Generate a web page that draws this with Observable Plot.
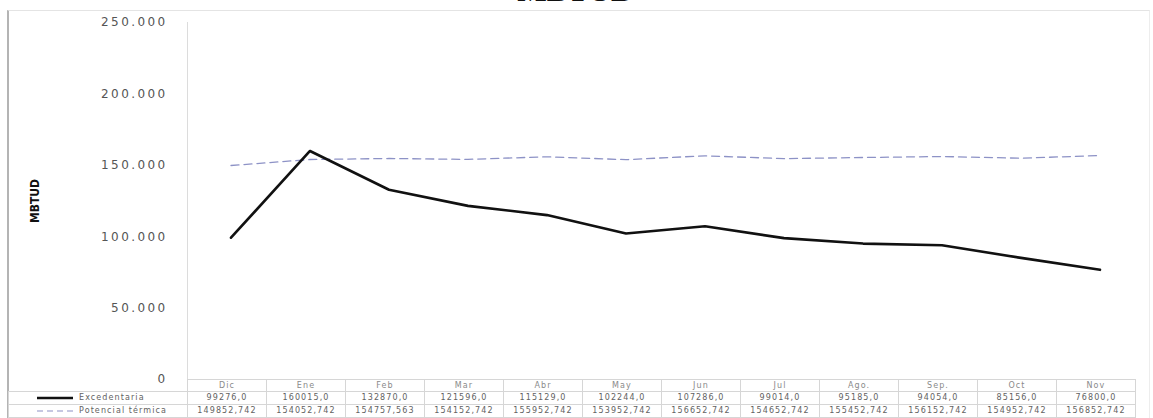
<!DOCTYPE html>
<html>
<head>
<meta charset="utf-8">
<script src="https://cdn.jsdelivr.net/npm/d3@7"></script>
<script src="https://cdn.jsdelivr.net/npm/@observablehq/plot@0.6"></script>
<style>
  html, body { margin: 0; padding: 0; background: #fff; }
  #wrap { position: relative; width: 1153px; height: 418px; overflow: hidden; background: #fff; }
  #title { position: absolute; left: 0; width: 1153px; top: -20px; text-align: center;
    font-family: "Liberation Serif", serif; font-weight: bold; font-size: 26px; line-height: 1;
    color: #111; transform: scaleX(1.2); transform-origin: 582px 0; }
  #border { position: absolute; left: 7px; top: 10px; width: 1140px; height: 412px;
    border-left: 2px solid #b4b4b4; border-top: 1px solid #e4e4e4; border-right: 1px solid #ededed; }
  #chart { position: absolute; left: 0; top: 0; }
  #tbl { position: absolute; top: 379px; border-collapse: collapse; table-layout: fixed;
    font-family: "DejaVu Sans", sans-serif; font-size: 8px; letter-spacing: 1.1px; color: #626262; }
  #tbl td { border: 1px solid #d6d6d6; padding: 0; text-align: center; white-space: nowrap; overflow: hidden; }
  #tbl tr.h td { height: 11px; line-height: 11px; color: #8a8a8a; }
  #tbl tr.r td { height: 12px; line-height: 12px; }
  #tbl tr.h td.blank { border: none; }
  #tbl td.lab { text-align: left; }
  #tbl td.lab svg { vertical-align: middle; margin-left: 28px; margin-right: 6px; }
</style>
</head>
<body>
<div id="wrap">
  <div id="border"></div>
  <div id="title">MBTUD</div>
  <div id="chart"></div>
  <table id="tbl"></table>
</div>
<script>
// ---- data ----
const months = ["Dic", "Ene", "Feb", "Mar", "Abr", "May", "Jun", "Jul", "Ago.", "Sep.", "Oct", "Nov"];
const excedentaria = [99276.0, 160015.0, 132870.0, 121596.0, 115129.0, 102244.0, 107286.0, 99014.0, 95185.0, 94054.0, 85156.0, 76800.0];
const potencial = [149852.742, 154052.742, 154757.563, 154152.742, 155952.742, 153952.742, 156652.742, 154652.742, 155452.742, 156152.742, 154952.742, 156852.742];
const seriesNames = ["Excedentaria", "Potencial térmica"];
const yTicks = [0, 50000, 100000, 150000, 200000, 250000];
const yLabel = "MBTUD";

const excRows = months.map((m, i) => ({month: m, value: excedentaria[i]}));
const potRows = months.map((m, i) => ({month: m, value: potencial[i]}));

const thousands = d => d3.format(",")(d).replace(/,/g, ".");

const chart = Plot.plot({
  width: 1153,
  height: 418,
  marginTop: 22,
  marginBottom: 39,
  marginLeft: 187,
  marginRight: 10,
  style: {fontFamily: "DejaVu Sans, sans-serif", fontSize: "12px", color: "#555", background: "transparent", letterSpacing: "2.4px"},
  x: {type: "band", domain: months, padding: 0, axis: null},
  y: {domain: [0, 250000], ticks: yTicks, tickFormat: thousands, tickSize: 0, tickPadding: 20, label: null},
  marks: [
    Plot.frame({anchor: "left", stroke: "#dcdcdc"}),
    Plot.line(potRows, {x: "month", y: "value", stroke: "#8d92c6", strokeWidth: 1.3, strokeDasharray: "8,5"}),
    Plot.line(excRows, {x: "month", y: "value", stroke: "#111", strokeWidth: 2.6}),
    Plot.text([yLabel], {frameAnchor: "left", textAnchor: "middle", dx: -152, rotate: -90, text: d => d, fontWeight: "bold",
      fontFamily: "DejaVu Sans Condensed, DejaVu Sans", fontSize: 12, fill: "#111"})
  ]
});
document.getElementById("chart").appendChild(chart);
// the rotated label is not letter-spaced as widely as the tick labels
chart.querySelectorAll("text").forEach(t => { if (t.textContent === yLabel) t.style.letterSpacing = "0px"; });

// ---- data table aligned to the x band scale ----
const xs = chart.scale("x");
const bw = xs.bandwidth;
const x0 = xs.range[0];
const tblLeft = 8;
const tbl = document.getElementById("tbl");
tbl.style.left = tblLeft + "px";
let html = "<colgroup><col style='width:" + (x0 - tblLeft) + "px'>" +
  months.map(() => "<col style='width:" + bw + "px'>").join("") + "</colgroup>";
html += "<tr class='h'><td class='blank'></td>" + months.map(m => "<td>" + m + "</td>").join("") + "</tr>";
const keyExc = "<svg width='36' height='6'><line x1='0' x2='36' y1='3' y2='3' stroke='#111' stroke-width='2.6'/></svg>";
const keyPot = "<svg width='36' height='6'><line x1='0' x2='36' y1='3' y2='3' stroke='#8d92c6' stroke-width='1.2' stroke-dasharray='6,4'/></svg>";
html += "<tr class='r'><td class='lab'>" + keyExc + seriesNames[0] + "</td>" +
  excedentaria.map(v => "<td>" + v.toFixed(1).replace(".", ",") + "</td>").join("") + "</tr>";
html += "<tr class='r'><td class='lab'>" + keyPot + seriesNames[1] + "</td>" +
  potencial.map(v => "<td>" + v.toFixed(3).replace(".", ",") + "</td>").join("") + "</tr>";
tbl.innerHTML = html;
</script>
</body>
</html>
